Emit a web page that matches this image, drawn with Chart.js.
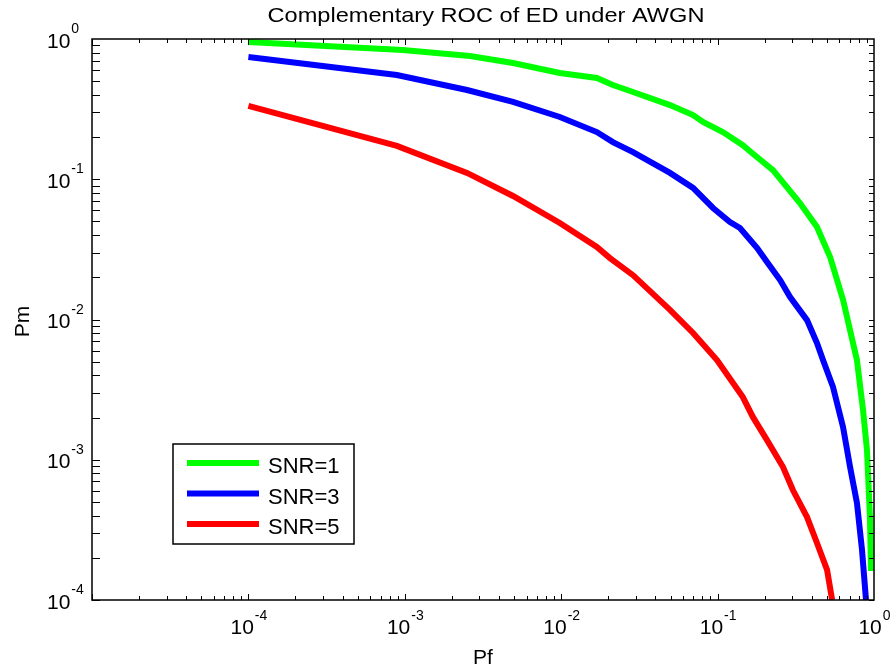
<!DOCTYPE html>
<html>
<head>
<meta charset="utf-8">
<script src="https://cdn.jsdelivr.net/npm/chart.js@4.4.1/dist/chart.umd.min.js"></script>
<style>
  html, body { margin: 0; padding: 0; background: #fff; }
  canvas { display: block; }
</style>
</head>
<body>
<canvas id="roc" width="891" height="668"></canvas>
<script>
// values (Pf on x, Pm on y)
const seriesLabels = ['SNR=1', 'SNR=3', 'SNR=5']
const seriesColors = ['#00ff00', '#0000ff', '#ff0000']

const pfSnr1 = [1e-4, 9.7e-4, 2.61e-3, 4.92e-3, 9.8e-3, 0.0169, 0.0214, 0.0288, 0.0496, 0.0697, 0.0807, 0.108, 0.145, 0.166, 0.226, 0.336, 0.432, 0.524, 0.634, 0.778, 0.851, 0.902, 0.942, 0.957]
const pmSnr1 = [0.952, 0.835, 0.756, 0.674, 0.573, 0.527, 0.470, 0.419, 0.338, 0.287, 0.256, 0.217, 0.175, 0.154, 0.116, 0.0677, 0.0457, 0.0279, 0.0138, 0.00514, 0.00226, 0.00117, 0.00039, 0.000161]

const pfSnr3 = [1e-4, 8.9e-4, 2.5e-3, 4.92e-3, 9.8e-3, 0.0169, 0.0214, 0.0288, 0.0496, 0.0697, 0.0935, 0.120, 0.139, 0.179, 0.207, 0.251, 0.290, 0.373, 0.432, 0.472, 0.547, 0.634, 0.703, 0.778, 0.838, 0.889]
const pmSnr3 = [0.744, 0.554, 0.433, 0.356, 0.278, 0.217, 0.184, 0.156, 0.111, 0.0867, 0.0624, 0.0496, 0.0449, 0.0323, 0.0257, 0.0191, 0.0145, 0.0099, 0.00679, 0.00514, 0.00330, 0.00171, 0.000887, 0.000492, 0.000228, 0.0001]

const pfSnr5 = [1e-4, 8.9e-4, 2.5e-3, 4.92e-3, 9.8e-3, 0.0169, 0.0205, 0.0288, 0.0496, 0.0697, 0.0991, 0.145, 0.168, 0.207, 0.262, 0.303, 0.373, 0.432, 0.501, 0.540]
const pmSnr5 = [0.333, 0.173, 0.111, 0.076, 0.0488, 0.0329, 0.0274, 0.0207, 0.0117, 0.00802, 0.00514, 0.0028, 0.00202, 0.00138, 0.000887, 0.000608, 0.00039, 0.000255, 0.000164, 0.0001]

const xTickValues = [1e-4, 1e-3, 1e-2, 1e-1, 1]
const xTickExps = ['-4', '-3', '-2', '-1', '0']
const yTickValues = [1, 1e-1, 1e-2, 1e-3, 1e-4]
const yTickExps = ['0', '-1', '-2', '-3', '-4']

const FONT = '"Liberation Sans", Arial, Helvetica, sans-serif'

const toPoints = (xs, ys) => xs.map((x, i) => ({ x: x, y: ys[i] }))
const pfSeries = [pfSnr1, pfSnr3, pfSnr5]
const pmSeries = [pmSnr1, pmSnr3, pmSnr5]

// matlab-ish frame, ticks, labels and legend
const matlabAxes = {
  id: 'matlabAxes',
  afterDraw(chart) {
    const ctx = chart.ctx
    const xs = chart.scales.x
    const ys = chart.scales.y
    const a = chart.chartArea
    ctx.save()

    // minor + major ticks
    ctx.strokeStyle = '#000'
    ctx.lineWidth = 1
    ctx.beginPath()
    for (let d = -5; d < 0; d++) {
      for (let k = 1; k <= 9; k++) {
        const v = k * Math.pow(10, d)
        const px = Math.round(xs.getPixelForValue(v)) + 0.5
        const len = k === 1 ? 6 : 4
        ctx.moveTo(px, a.bottom); ctx.lineTo(px, a.bottom - len)
        ctx.moveTo(px, a.top); ctx.lineTo(px, a.top + len)
      }
    }
    for (let d = -4; d < 0; d++) {
      for (let k = 1; k <= 9; k++) {
        const v = k * Math.pow(10, d)
        const py = Math.round(ys.getPixelForValue(v)) + 0.5
        ctx.moveTo(a.left, py); ctx.lineTo(a.left + 8, py)
        ctx.moveTo(a.right, py); ctx.lineTo(a.right - 5, py)
      }
    }
    ctx.stroke()

    // box
    ctx.lineWidth = 1.5
    ctx.strokeRect(a.left, a.top, a.right - a.left, a.bottom - a.top)

    // tick labels
    ctx.fillStyle = '#000'
    ctx.textBaseline = 'alphabetic'
    ctx.textAlign = 'left'
    xTickValues.forEach((v, i) => {
      const px = xs.getPixelForValue(v)
      ctx.font = '21px ' + FONT
      const wb = ctx.measureText('10').width
      ctx.font = '14px ' + FONT
      const we = ctx.measureText(xTickExps[i]).width
      const x0 = px - (wb + we) / 2
      ctx.font = '21px ' + FONT
      ctx.fillText('10', x0, 634)
      ctx.font = '14px ' + FONT
      ctx.fillText(xTickExps[i], x0 + wb + 1, 620)
    })
    yTickValues.forEach((v, i) => {
      const py = ys.getPixelForValue(v)
      ctx.font = '21px ' + FONT
      const wb = ctx.measureText('10').width
      ctx.fillText('10', 47, py + 8.5)
      ctx.font = '14px ' + FONT
      ctx.fillText(yTickExps[i], 47 + wb + 1, py - 6)
    })

    // axis labels
    ctx.font = '21px ' + FONT
    ctx.textAlign = 'center'
    ctx.fillText('Pf', (a.left + a.right) / 2, 664)
    ctx.save()
    ctx.translate(29, (a.top + a.bottom) / 2 + 2)
    ctx.rotate(-Math.PI / 2)
    ctx.fillText('Pm', 0, 0)
    ctx.restore()

    // title, slightly stretched like the original
    const title = 'Complementary ROC of ED under AWGN'
    ctx.font = '21px ' + FONT
    const tw = ctx.measureText(title).width
    ctx.save()
    ctx.translate(486, 22)
    ctx.scale(437 / tw, 1)
    ctx.fillText(title, 0, 0)
    ctx.restore()

    // legend
    const lx = 173, ly = 444, lw = 181, lh = 100
    ctx.fillStyle = '#fff'
    ctx.fillRect(lx, ly, lw, lh)
    ctx.lineWidth = 1.5
    ctx.strokeStyle = '#000'
    ctx.strokeRect(lx, ly, lw, lh)
    ctx.textAlign = 'left'
    ctx.font = '22px ' + FONT
    chart.data.datasets.forEach((ds, i) => {
      const yy = 463 + i * 30.5
      ctx.strokeStyle = ds.borderColor
      ctx.lineWidth = 6
      ctx.beginPath()
      ctx.moveTo(187, yy); ctx.lineTo(259, yy)
      ctx.stroke()
      ctx.fillStyle = '#000'
      ctx.fillText(ds.label, 268, yy + 10)
    })
    ctx.restore()
  }
}

new Chart(document.getElementById('roc'), {
  type: 'line',
  data: {
    datasets: seriesLabels.map((label, i) => ({
      label: label,
      data: toPoints(pfSeries[i], pmSeries[i]),
      borderColor: seriesColors[i],
      backgroundColor: seriesColors[i],
      borderWidth: 6,
      pointRadius: 0,
      fill: false,
      tension: 0,
    })),
  },
  options: {
    responsive: false,
    animation: false,
    layout: { padding: { left: 92, top: 39, right: 17, bottom: 68 } },
    plugins: {
      legend: { display: false },
      title: { display: false },
      tooltip: { enabled: false },
    },
    scales: {
      x: { type: 'logarithmic', min: 1e-5, max: 1, display: false },
      y: { type: 'logarithmic', min: 1e-4, max: 1, display: false },
    },
  },
  plugins: [matlabAxes],
})
</script>
</body>
</html>
